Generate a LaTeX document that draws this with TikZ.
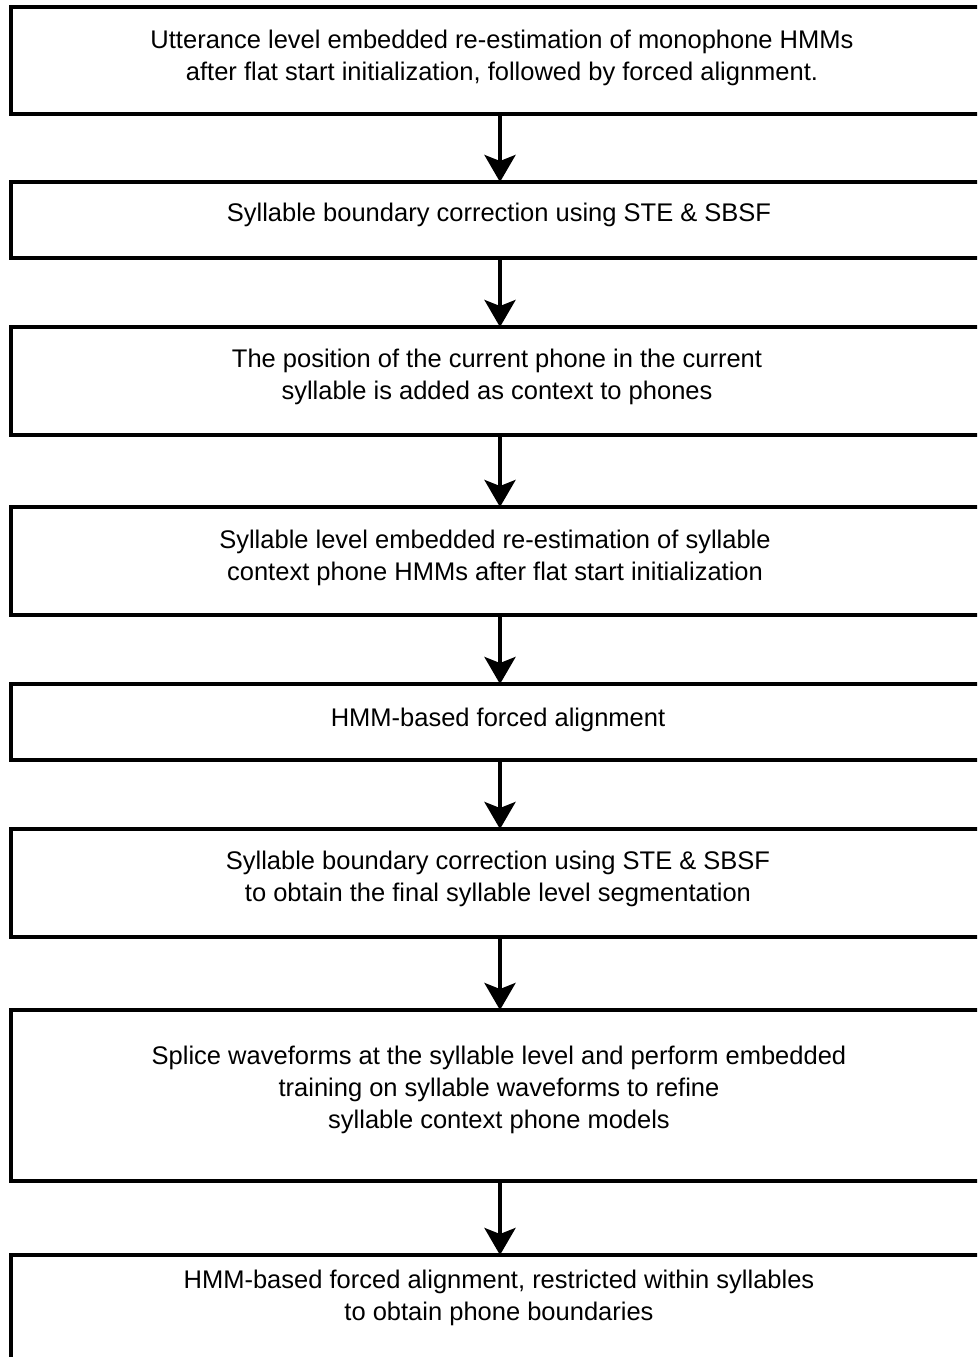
\documentclass[tikz,border=0pt]{standalone}
\usepackage{fontspec}
\setmainfont{Liberation Sans}
\usetikzlibrary{arrows.meta}
\begin{document}
\begin{tikzpicture}[x=1pt,y=-1pt,
  box/.style={draw, line width=4pt, minimum width=978pt, inner sep=0pt, outer sep=0pt},
  txt/.style={align=center, font=\fontsize{25.5}{32}\selectfont, inner sep=0pt},
  arr/.style={line width=4pt, -{Stealth[length=27pt, width=31pt, inset=6pt]}}]
\useasboundingbox (0,0) rectangle (977,1357);
\clip (0,0) rectangle (977,1357);
\fill[white] (0,0) rectangle (977,1357);
\node[box, minimum height=107pt] (b1) at (500,60.5) {};
\node[box, minimum height=76pt] (b2) at (500,220) {};
\node[box, minimum height=108pt] (b3) at (500,381) {};
\node[box, minimum height=108pt] (b4) at (500,561) {};
\node[box, minimum height=76pt] (b5) at (500,722) {};
\node[box, minimum height=108pt] (b6) at (500,883) {};
\node[box, minimum height=171pt] (b7) at (500,1095.5) {};
\node[box, minimum height=120pt] (b8) at (500,1315) {};
\node[txt] (t1) at (502,58) {Utterance level embedded re-estimation of monophone HMMs\\after flat start initialization, followed by forced alignment.};
\node[txt] (t2) at (499,215) {Syllable boundary correction using STE \& SBSF};
\node[txt] (t3) at (497,377) {The position of the current phone in the current\\syllable is added as context to phones};
\node[txt] (t4) at (495,557.5) {Syllable level embedded re-estimation of syllable\\context phone HMMs after flat start initialization};
\node[txt] (t5) at (498,720) {HMM-based forced alignment};
\node[txt] (t6) at (498,879) {Syllable boundary correction using STE \& SBSF\\to obtain the final syllable level segmentation};
\node[txt] (t7) at (499,1090) {Splice waveforms at the syllable level and perform embedded\\training on syllable waveforms to refine\\syllable context phone models};
\node[txt] (t8) at (499,1298) {HMM-based forced alignment, restricted within syllables\\to obtain phone boundaries};
\draw[arr] (b1.south) -- (b2.north);
\draw[arr] (b2.south) -- (b3.north);
\draw[arr] (b3.south) -- (b4.north);
\draw[arr] (b4.south) -- (b5.north);
\draw[arr] (b5.south) -- (b6.north);
\draw[arr] (b6.south) -- (b7.north);
\draw[arr] (b7.south) -- (b8.north);
\end{tikzpicture}
\end{document}
